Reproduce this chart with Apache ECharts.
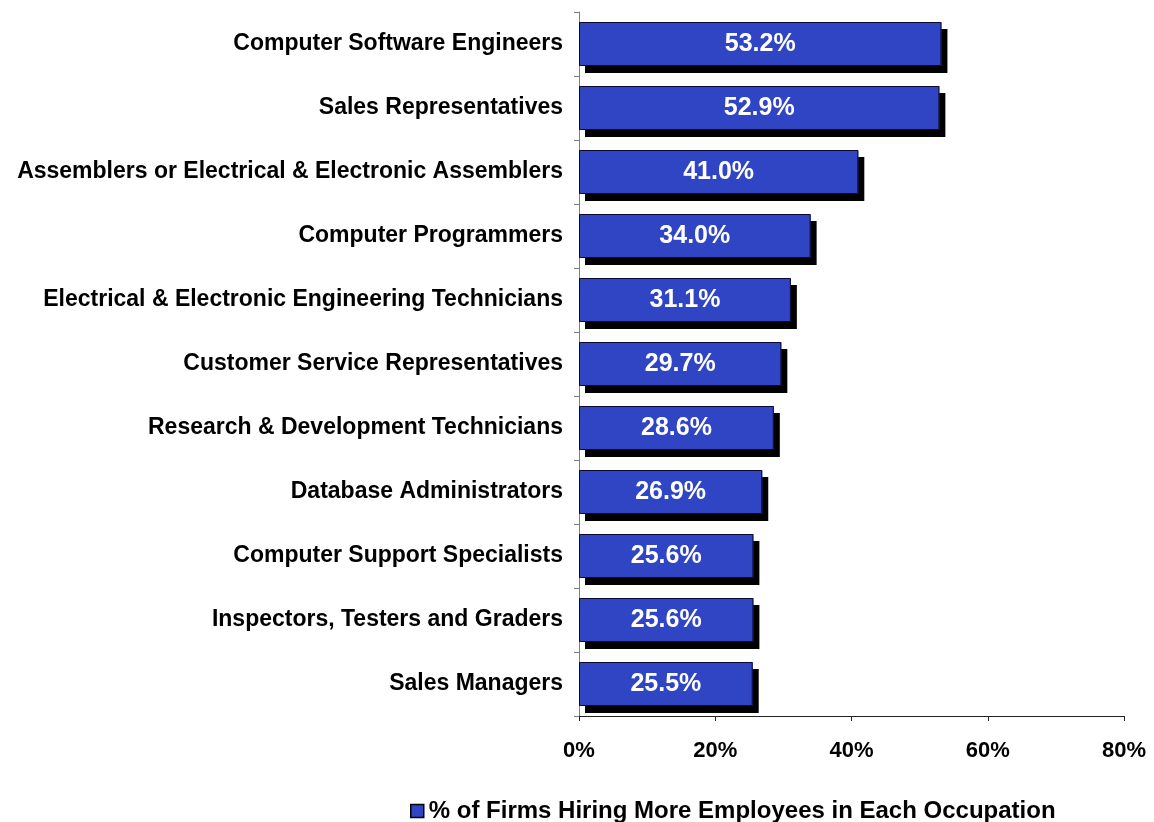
<!DOCTYPE html>
<html>
<head>
<meta charset="utf-8">
<script src="https://cdn.jsdelivr.net/npm/echarts@6/dist/echarts.min.js"></script>
<style>
  html, body { margin: 0; padding: 0; background: #fff; }
  #main { width: 1154px; height: 822px; }
</style>
</head>
<body>
<div id="main"></div>
<script>
// occupations, top to bottom
var categories = [
  'Computer Software Engineers',
  'Sales Representatives',
  'Assemblers or Electrical & Electronic Assemblers',
  'Computer Programmers',
  'Electrical & Electronic Engineering Technicians',
  'Customer Service Representatives',
  'Research & Development Technicians',
  'Database Administrators',
  'Computer Support Specialists',
  'Inspectors, Testers and Graders',
  'Sales Managers'
];
var hiringPct = [53.2, 52.9, 41.0, 34.0, 31.1, 29.7, 28.6, 26.9, 25.6, 25.6, 25.5];
var xTicks = [0, 20, 40, 60, 80];
var seriesName = '% of Firms Hiring More Employees in Each Occupation';

var font = "'Liberation Sans', Arial, sans-serif";
var chart = echarts.init(document.getElementById('main'));

chart.setOption({
  animation: false,
  grid: { left: 579, right: 30, top: 12, bottom: 106 },
  legend: {
    left: 405,
    top: 794,
    icon: 'rect',
    itemWidth: 13,
    itemHeight: 13,
    itemGap: 4,
    itemStyle: { borderColor: '#000', borderWidth: 1.5, shadowColor: 'transparent' },
    textStyle: { fontFamily: font, fontWeight: 'bold', fontSize: 24, color: '#000' },
    data: [seriesName]
  },
  xAxis: {
    type: 'value',
    min: xTicks[0],
    max: xTicks[xTicks.length - 1],
    interval: 20,
    splitLine: { show: false },
    axisLine: { show: true, lineStyle: { color: '#222', width: 1 } },
    axisTick: { show: true, length: 5, lineStyle: { color: '#222' } },
    axisLabel: {
      margin: 24,
      formatter: '{value}%',
      fontFamily: font, fontWeight: 'bold', fontSize: 22, color: '#000'
    }
  },
  yAxis: {
    type: 'category',
    inverse: true,
    data: categories,
    axisLine: { show: true, lineStyle: { color: '#808080', width: 1 } },
    axisTick: { show: true, length: 5, lineStyle: { color: '#808080' } },
    axisLabel: {
      margin: 16,
      fontFamily: font, fontWeight: 'bold', fontSize: 23, color: '#000'
    }
  },
  series: [{
    name: seriesName,
    type: 'bar',
    data: hiringPct,
    barWidth: 44,
    itemStyle: {
      color: '#3045C4',
      shadowColor: '#000',
      shadowBlur: 0,
      shadowOffsetX: 6,
      shadowOffsetY: 7
    },
    label: {
      show: true,
      position: 'inside',
      formatter: function (p) { return p.value.toFixed(1) + '%'; },
      fontFamily: font, fontWeight: 'bold', fontSize: 25, color: '#fff'
    }
  }, {
    // thin outline on top of each bar, without the drop shadow
    name: 'outline',
    type: 'bar',
    data: hiringPct,
    barWidth: 44,
    barGap: '-100%',
    silent: true,
    z: 3,
    itemStyle: {
      color: 'transparent',
      borderColor: '#0a0a30',
      borderWidth: 1
    }
  }]
});
</script>
</body>
</html>
